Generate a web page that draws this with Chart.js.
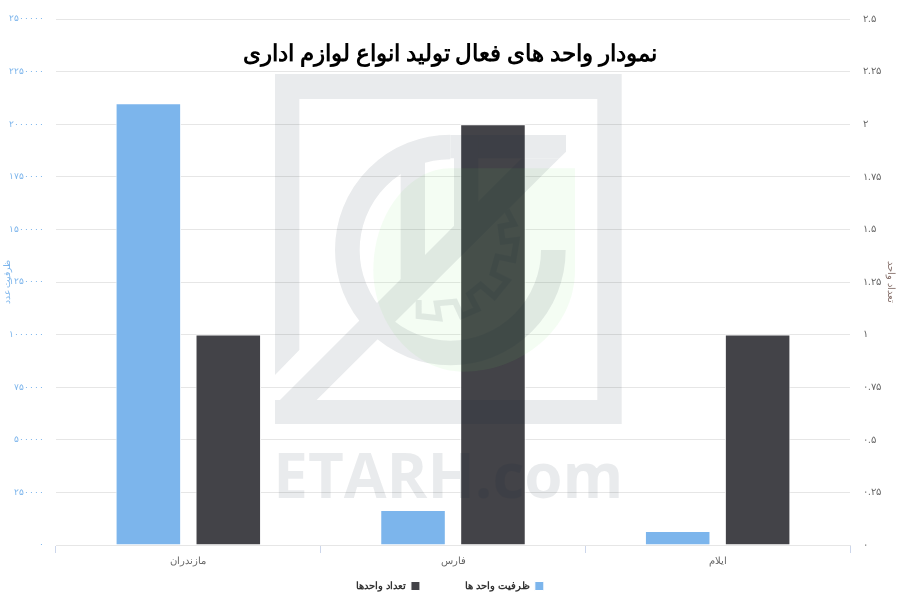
<!DOCTYPE html>
<html lang="fa">
<head>
<meta charset="utf-8">
<title>نمودار واحد های فعال تولید انواع لوازم اداری</title>
<script src="https://cdn.jsdelivr.net/npm/chart.js@4/dist/chart.umd.min.js"></script>
<style>
    body { margin: 0; background: #fff; }
    canvas { display: block; }
</style>
</head>
<body>
<canvas id="myChart" width="900" height="600"></canvas>
<script>
const categories = ['مازندران', 'فارس', 'ایلام'];
const capacityValues = [2100000, 166000, 66000];
const countValues = [1, 2, 1];
const leftTickLabels = ['۰', '۲۵۰۰۰۰', '۵۰۰۰۰۰', '۷۵۰۰۰۰', '۱۰۰۰۰۰۰', '۱۲۵۰۰۰۰', '۱۵۰۰۰۰۰', '۱۷۵۰۰۰۰', '۲۰۰۰۰۰۰', '۲۲۵۰۰۰۰', '۲۵۰۰۰۰۰'];
const rightTickLabels = ['۰', '۰.۲۵', '۰.۵', '۰.۷۵', '۱', '۱.۲۵', '۱.۵', '۱.۷۵', '۲', '۲.۲۵', '۲.۵'];

const fontName = '"Liberation Sans", sans-serif';
const titleFont = '"Noto Sans", sans-serif';

// watermark, traced in 3x coordinates from (260,70)
function drawGreyMark(c) {
    c.fillStyle = '#0a1e32';
    c.strokeStyle = '#0a1e32';

    // frame with the cut at bottom left
    c.beginPath();
    c.moveTo(45, 915);
    c.lineTo(45, 12);
    c.lineTo(1085, 12);
    c.lineTo(1085, 1062);
    c.lineTo(45, 1062);
    c.lineTo(45, 990);
    c.lineTo(1012, 990);
    c.lineTo(1012, 87);
    c.lineTo(118, 87);
    c.lineTo(118, 840);
    c.closePath();
    c.fill();

    // ring
    c.lineWidth = 74;
    c.beginPath();
    c.arc(571, 540, 309, 0, Math.PI * 1.5);
    c.stroke();

    // top bar, diagonal band, two vertical bars
    c.beginPath();
    c.moveTo(571, 195);
    c.lineTo(918, 195);
    c.lineTo(918, 245);
    c.lineTo(898, 265);
    c.lineTo(571, 265);
    c.closePath();
    c.fill();

    c.beginPath();
    c.moveTo(45, 1005);
    c.lineTo(785, 265);
    c.lineTo(898, 265);
    c.lineTo(170, 990);
    c.lineTo(45, 990);
    c.closePath();
    c.fill();

    c.fillRect(422, 270, 73, 370);
    c.fillRect(582, 200, 73, 280);

    // gear outline
    c.lineWidth = 18;
    c.lineJoin = 'miter';
    c.beginPath();
    const gear = [[740, 420], [762, 462], [722, 470], [728, 515], [770, 510], [760, 570], [712, 560], [698, 610], [742, 632], [703, 680], [662, 645], [628, 672], [652, 718], [605, 738], [585, 695], [530, 700], [538, 745], [476, 738], [476, 690]];
    gear.forEach((p, i) => i ? c.lineTo(p[0], p[1]) : c.moveTo(p[0], p[1]));
    c.stroke();

    // site name
    c.font = 'bold 190px "Open Sans", sans-serif';
    c.textAlign = 'left';
    c.textBaseline = 'alphabetic';
    c.direction = 'ltr';
    c.fillText('ETARH.com', 40, 1285, 1050);
}

const watermark = {
    id: 'watermark',
    afterDraw(chart) {
        const ctx = chart.ctx;
        ctx.save();
        ctx.translate(260, 70);
        ctx.scale(1 / 3, 1 / 3);

        ctx.globalAlpha = 0.08;
        ctx.fillStyle = '#6ee664';
        ctx.beginPath();
        ctx.moveTo(945, 295);
        ctx.lineTo(945, 600);
        ctx.bezierCurveTo(945, 780, 780, 905, 610, 905);
        ctx.bezierCurveTo(460, 905, 340, 760, 340, 600);
        ctx.bezierCurveTo(340, 430, 450, 295, 570, 295);
        ctx.closePath();
        ctx.fill();
        ctx.restore();

        // grey parts go on one layer so overlaps do not darken
        const layer = document.createElement('canvas');
        layer.width = chart.width;
        layer.height = chart.height;
        const c = layer.getContext('2d');
        c.translate(260, 70);
        c.scale(1 / 3, 1 / 3);
        drawGreyMark(c);

        ctx.save();
        ctx.globalAlpha = 0.085;
        ctx.drawImage(layer, 0, 0);
        ctx.restore();
    }
};

const data = {
    labels: categories,
    datasets: [{
        label: 'ظرفیت واحد ها',
        data: capacityValues,
        yAxisID: 'yCapacity',
        backgroundColor: '#7cb5ec',
        borderColor: '#ffffff',
        borderWidth: 1
    }, {
        label: 'تعداد واحدها',
        data: countValues,
        yAxisID: 'yCount',
        backgroundColor: '#434348',
        borderColor: '#ffffff',
        borderWidth: 1
    }]
};

const config = {
    type: 'bar',
    data,
    plugins: [watermark],
    options: {
        responsive: false,
        animation: false,
        categoryPercentage: 0.604,
        barPercentage: 0.82,
        layout: {
            padding: { top: 19, bottom: -1, left: 0, right: 0 }
        },
        plugins: {
            tooltip: { enabled: false },
            title: {
                display: true,
                text: 'نمودار واحد های فعال تولید انواع لوازم اداری',
                color: '#000000',
                font: { family: titleFont, size: 22.5, weight: 'bold' },
                padding: { top: 22.5, bottom: -49.5 }
            },
            legend: {
                position: 'bottom',
                rtl: true,
                textDirection: 'rtl',
                labels: {
                    boxWidth: 9,
                    boxHeight: 9,
                    padding: 12,
                    color: '#333333',
                    font: { family: fontName, size: 10, weight: 'bold' },
                    // widen the gap between the two items
                    generateLabels(chart) {
                        const items = Chart.defaults.plugins.legend.labels.generateLabels(chart);
                        items[0].text += '\u00A0'.repeat(12);
                        return items;
                    }
                }
            }
        },
        scales: {
            x: {
                grid: {
                    drawOnChartArea: false,
                    drawTicks: true,
                    tickLength: 8,
                    offset: true,
                    color: '#ccd6eb'
                },
                border: { color: '#e6e6e6' },
                ticks: {
                    color: '#666666',
                    padding: 2,
                    font: { family: fontName, size: 10 }
                }
            },
            yCapacity: {
                position: 'left',
                min: 0,
                max: 2500000,
                afterFit(scale) { scale.width = 56; },
                grid: { color: '#e6e6e6', drawTicks: false },
                border: { display: false },
                title: {
                    display: true,
                    text: 'ظرفیت عدد',
                    color: '#7cb5ec',
                    padding: 2,
                    font: { family: fontName, size: 9 }
                },
                ticks: {
                    stepSize: 250000,
                    autoSkip: false,
                    color: '#7cb5ec',
                    padding: 12,
                    font: { family: fontName, size: 9 },
                    callback: (value, i) => leftTickLabels[i]
                }
            },
            yCount: {
                position: 'right',
                min: 0,
                max: 2.5,
                afterFit(scale) { scale.width = 50; },
                grid: { drawOnChartArea: false, drawTicks: false },
                border: { display: false },
                title: {
                    display: true,
                    text: 'تعداد واحد',
                    color: '#8a7570',
                    padding: 3,
                    font: { family: fontName, size: 10 }
                },
                ticks: {
                    stepSize: 0.25,
                    autoSkip: false,
                    color: '#666666',
                    padding: 13,
                    font: { family: fontName, size: 10 },
                    callback: (value, i) => rightTickLabels[i]
                }
            }
        }
    }
};

const myChart = new Chart(document.getElementById('myChart'), config);
</script>
</body>
</html>
